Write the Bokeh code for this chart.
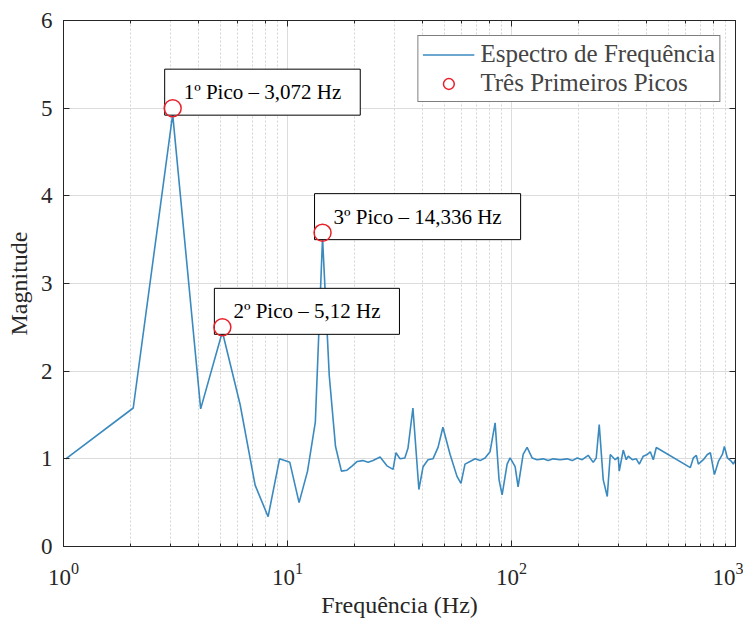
from bokeh.plotting import figure
from bokeh.models import Range1d, LogAxis, LinearAxis, Label, Legend, LegendItem, FixedTicker, LogTicker
from bokeh.embed import file_html
from bokeh.resources import INLINE

# Spectrum (Hz, magnitude)
freq = [1.024, 2.048, 3.072, 4.096, 5.12, 6.144, 7.168, 8.192, 9.216, 10.24,
        11.264, 12.288, 13.312, 14.336, 15.36, 16.384, 17.408, 18.432, 19.456, 20.48,
        21.7, 22.9, 24.1, 25.9, 27.8, 29.6, 30.5, 31.8, 33.4, 34.5,
        36.3, 38.6, 40.3, 42.4, 44.6, 47.0, 49.4, 53.2, 57.1, 59.5,
        62.0, 65.3, 68.8, 72.4, 76.2, 80.2, 84.5, 88.0, 90.8, 95.6,
        98.6, 103.8, 107.0, 112.7, 117.4, 123.6, 130.1, 138.5, 145.8, 153.5,
        164.9, 177.2, 186.6, 196.5, 206.9, 220.0, 231.6, 238.9, 246.4, 256.8,
        267.6, 276.0, 290.5, 299.6, 302.7, 315.4, 325.3, 332.1, 346.1, 360.6,
        371.9, 387.5, 403.9, 416.5, 429.5, 443.0, 628.6, 648.3, 668.7, 682.6,
        718.7, 748.9, 772.3, 805.0, 838.9, 873.9, 892.2, 920.1, 959.0, 978.6, 1000.0]
mag = [1.0, 1.58, 4.93, 1.57, 2.45, 1.62, 0.7, 0.34, 1.0, 0.96,
       0.5, 0.86, 1.42, 3.52, 1.95, 1.14, 0.86, 0.87, 0.92, 0.97,
       0.98, 0.96, 0.98, 1.02, 0.92, 0.88, 1.07, 1.0, 1.01, 1.12,
       1.58, 0.65, 0.91, 0.99, 1.0, 1.13, 1.36, 1.05, 0.8, 0.72,
       0.94, 0.97, 1.0, 0.98, 1.01, 1.08, 1.41, 0.76, 0.59, 0.94,
       1.01, 0.91, 0.68, 1.05, 1.13, 1.01, 0.99, 1.0, 0.98, 1.0,
       0.99, 1.0, 0.98, 1.01, 0.99, 1.04, 0.96, 1.01, 1.39, 0.76,
       0.57, 1.05, 0.99, 1.02, 0.86, 1.1, 0.99, 1.03, 0.99, 1.0,
       0.94, 1.03, 1.05, 1.08, 0.99, 1.13, 0.9, 1.01, 1.04, 0.94,
       0.99, 1.05, 1.07, 0.82, 0.97, 1.05, 1.14, 1.01, 0.97, 0.94, 0.99]

peak_freq = [3.072, 5.12, 14.336]
peak_mag = [5.0, 2.5, 3.58]
peak_labels = ["1º Pico – 3,072 Hz", "2º Pico – 5,12 Hz", "3º Pico – 14,336 Hz"]

y_ticks = [0, 1, 2, 3, 4, 5, 6]

FONT = "Liberation Serif"
AX = "#262626"

p = figure(frame_width=672, frame_height=526, x_axis_type="log",
           x_range=Range1d(1, 1000), y_range=Range1d(0, 6),
           output_backend="svg", toolbar_location=None,
           min_border_left=63, min_border_right=8, min_border_top=20, min_border_bottom=56)
p.outline_line_color = AX
p.outline_line_width = 1

line_r = p.line(freq, mag, line_color="#3a8abf", line_width=1.6)
circ_r = p.scatter(peak_freq, peak_mag, marker="circle", size=17, fill_color=None,
                   line_color="#e8202a", line_width=1.5)
circ_r.level = "overlay"

# axes
p.xaxis.axis_label = "Frequência (Hz)"
p.yaxis.axis_label = "Magnitude"
p.yaxis.ticker = FixedTicker(ticks=y_ticks)
for ax in (p.xaxis[0], p.yaxis[0]):
    ax.axis_label_text_font = FONT
    ax.axis_label_text_font_style = "normal"
    ax.axis_label_text_font_size = "24px"
    ax.axis_label_text_color = AX
    ax.major_label_text_font = FONT
    ax.major_label_text_font_size = "23px"
    ax.major_label_text_color = AX
    ax.axis_line_color = AX
    ax.major_tick_line_color = AX
    ax.minor_tick_line_color = AX
    ax.major_tick_in = 6
    ax.major_tick_out = 0
    ax.minor_tick_in = 3
    ax.minor_tick_out = 0
p.yaxis.minor_tick_line_color = None
p.yaxis.major_label_standoff = 11
p.yaxis.axis_label_standoff = 6
p.xaxis.major_label_standoff = 16
p.xaxis.axis_label_standoff = 4

top = LogAxis(ticker=LogTicker(), major_label_text_font_size="1px", major_label_text_alpha=0,
              axis_line_color=AX, major_tick_line_color=AX, minor_tick_line_color=AX,
              major_tick_in=6, major_tick_out=0, minor_tick_in=3, minor_tick_out=0,
              major_label_standoff=0)
p.add_layout(top, "above")
right = LinearAxis(ticker=FixedTicker(ticks=y_ticks), major_label_text_font_size="1px",
                   major_label_text_alpha=0,
                   axis_line_color=AX, major_tick_line_color=AX, minor_tick_line_color=None,
                   major_tick_in=6, major_tick_out=0, major_label_standoff=0)
p.add_layout(right, "right")

# grids
p.xgrid.grid_line_color = "#dcdcdc"
p.xgrid.minor_grid_line_color = "#d4d4d4"
p.xgrid.minor_grid_line_dash = "2 2"
p.ygrid.grid_line_color = "#dcdcdc"

# peak annotations
for f, m, t in zip(peak_freq, peak_mag, peak_labels):
    p.add_layout(Label(x=f, y=m, text=t, x_offset=-8, y_offset=-7, anchor="bottom_left",
                       text_font=FONT, text_font_size="21px", text_color="black",
                       background_fill_color="white", border_line_color="black",
                       border_line_width=1, padding=dict(x=19, y=11)))

legend = Legend(items=[LegendItem(label="Espectro de Frequência", renderers=[line_r]),
                       LegendItem(label="Três Primeiros Picos", renderers=[circ_r])],
                location="top_right", margin=15, padding=4, spacing=1,
                glyph_width=52, glyph_height=27, label_height=27, label_standoff=6,
                label_text_font=FONT, label_text_font_size="25px",
                border_line_color="black", border_line_width=1,
                background_fill_color="white", background_fill_alpha=1)
p.add_layout(legend)

open("out.html", "w").write(file_html(p, INLINE))
